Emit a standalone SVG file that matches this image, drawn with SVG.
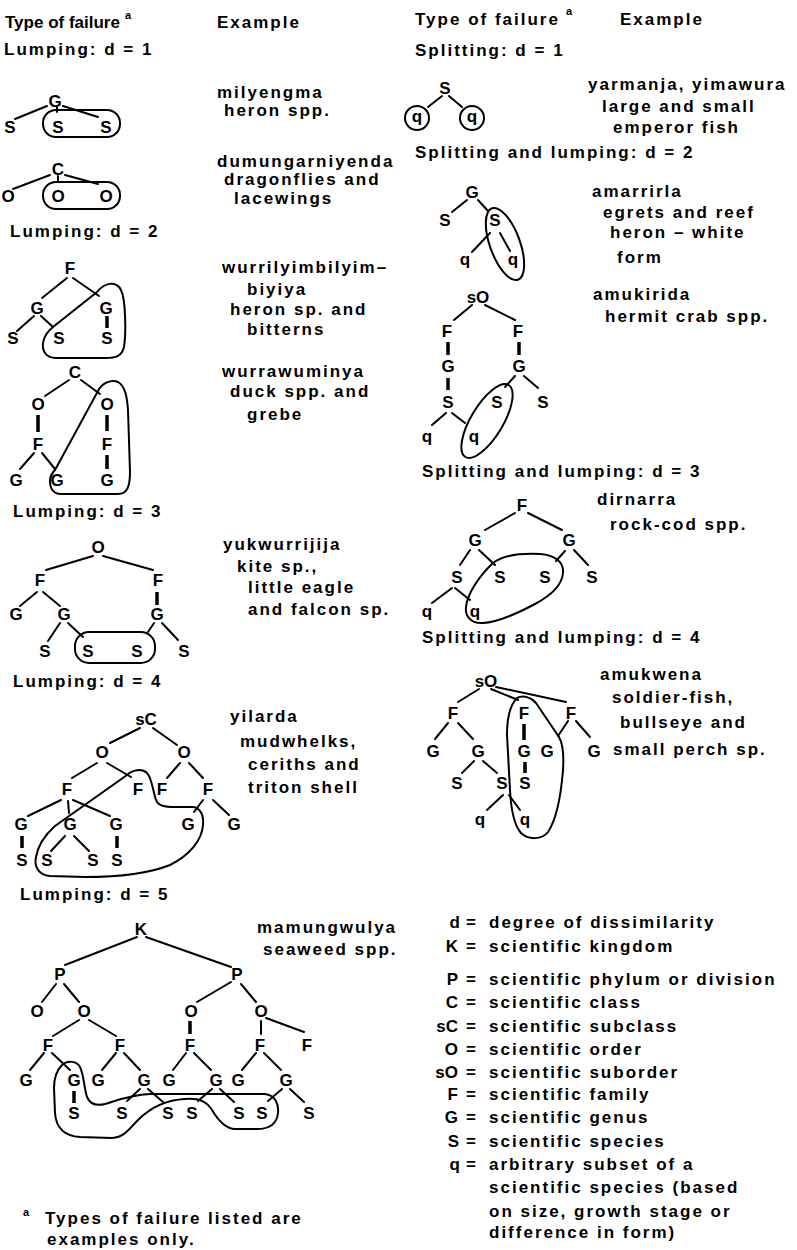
<svg xmlns="http://www.w3.org/2000/svg" width="797" height="1250" viewBox="0 0 797 1250">
<style>
.t{font-family:"Liberation Sans",Arial,sans-serif;font-weight:bold;font-size:17px;letter-spacing:2px;fill:#000}
.n{font-family:"Liberation Sans",Arial,sans-serif;font-weight:bold;font-size:17px;fill:#000;text-anchor:middle}
.sup{font-family:"Liberation Sans",Arial,sans-serif;font-weight:bold;font-size:11px;fill:#000}
.sym{font-family:"Liberation Sans",Arial,sans-serif;font-weight:bold;font-size:17px;fill:#000;text-anchor:end}
.e{stroke:#000;stroke-width:2;fill:none;stroke-linecap:round}
.b{stroke:#000;stroke-width:3.5;fill:none}
.l{stroke:#000;stroke-width:2;fill:none}
</style>
<rect width="797" height="1250" fill="#fff"/>

<g id="headers">
<text class="t" x="5" y="28" style="letter-spacing:0">Type of failure</text><text class="sup" x="125" y="19">a</text>
<text class="t" x="217" y="28">Example</text>
<text class="t" x="415" y="25">Type of failure</text><text class="sup" x="566" y="15">a</text>
<text class="t" x="620" y="25">Example</text>
<text class="t" x="4" y="55">Lumping: d = 1</text>
<text class="t" x="10" y="237">Lumping: d = 2</text>
<text class="t" x="13" y="517">Lumping: d = 3</text>
<text class="t" x="13" y="687">Lumping: d = 4</text>
<text class="t" x="20" y="900">Lumping: d = 5</text>
<text class="t" x="415" y="56">Splitting: d = 1</text>
<text class="t" x="415" y="158">Splitting and lumping: d = 2</text>
<text class="t" x="422" y="477">Splitting and lumping: d = 3</text>
<text class="t" x="422" y="643">Splitting and lumping: d = 4</text>
</g>

<g id="examples">
<text class="t" x="217" y="98">milyengma</text>
<text class="t" x="224" y="116">heron spp.</text>
<text class="t" x="217" y="167">dumungarniyenda</text>
<text class="t" x="224" y="185">dragonflies and</text>
<text class="t" x="234" y="204">lacewings</text>
<text class="t" x="222" y="273">wurrilyimbilyim–</text>
<text class="t" x="247" y="295">biyiya</text>
<text class="t" x="230" y="315">heron sp. and</text>
<text class="t" x="247" y="335">bitterns</text>
<text class="t" x="222" y="377">wurrawuminya</text>
<text class="t" x="230" y="397">duck spp. and</text>
<text class="t" x="247" y="420">grebe</text>
<text class="t" x="223" y="550">yukwurrijija</text>
<text class="t" x="237" y="572">kite sp.,</text>
<text class="t" x="248" y="593">little eagle</text>
<text class="t" x="248" y="615">and falcon sp.</text>
<text class="t" x="230" y="722">yilarda</text>
<text class="t" x="240" y="747">mudwhelks,</text>
<text class="t" x="248" y="770">ceriths and</text>
<text class="t" x="248" y="793">triton shell</text>
<text class="t" x="257" y="933">mamungwulya</text>
<text class="t" x="263" y="955">seaweed spp.</text>
<text class="t" x="588" y="90">yarmanja, yimawura</text>
<text class="t" x="602" y="112">large and small</text>
<text class="t" x="613" y="133">emperor fish</text>
<text class="t" x="592" y="197">amarrirla</text>
<text class="t" x="603" y="218">egrets and reef</text>
<text class="t" x="610" y="238">heron – white</text>
<text class="t" x="617" y="263">form</text>
<text class="t" x="593" y="300">amukirida</text>
<text class="t" x="605" y="322">hermit crab spp.</text>
<text class="t" x="597" y="505">dirnarra</text>
<text class="t" x="610" y="530">rock-cod spp.</text>
<text class="t" x="600" y="680">amukwena</text>
<text class="t" x="612" y="703">soldier-fish,</text>
<text class="t" x="620" y="728">bullseye and</text>
<text class="t" x="613" y="755">small perch sp.</text>
</g>

<g id="tree-lump1a">
<g class="connectors"><path class="e" d="M47,106L15,119M57,107L57,112M63,106L98,117"/><rect class="l" x="43" y="110" width="77" height="27" rx="13"/></g>
<text class="n" x="55" y="107">G</text><text class="n" x="10" y="133">S</text><text class="n" x="58" y="133">S</text><text class="n" x="106" y="133">S</text>
</g>
<g id="tree-lump1b">
<g class="connectors"><path class="e" d="M50,175L13,189M58,176L58,182M65,175L98,184"/><rect class="l" x="43" y="182" width="77" height="27" rx="13"/></g>
<text class="n" x="58" y="175">C</text><text class="n" x="8" y="202">O</text><text class="n" x="58" y="202">O</text><text class="n" x="106" y="202">O</text>
</g>
<g id="tree-lump2a">
<g class="connectors"><path class="e" d="M67,278L42,298M73,278L99,296M34,316L17,331M41,316L53,327"/><path class="b" d="M107,316L107,328"/>
<path class="l" d="M53,327L97,292C104,283 116,280 121,290C126,300 126,335 124,347C122,356 116,358 106,358L56,358C46,358 42,351 43,343C44,336 48,331 53,327Z"/></g>
<text class="n" x="70" y="274">F</text><text class="n" x="37" y="314">G</text><text class="n" x="106" y="314">G</text><text class="n" x="13" y="344">S</text><text class="n" x="59" y="344">S</text><text class="n" x="107" y="344">S</text>
</g>
<g id="tree-lump2b">
<g class="connectors"><path class="e" d="M69,380L45,396M81,380L100,394M34,453L20,469M42,453L55,469"/><path class="b" d="M38,415L38,432M107,415L107,431M107,455L107,469"/>
<path class="l" d="M55,470L98,391C102,383 111,379 118,382C125,386 127,396 128,410L130,472C130,487 127,494 118,494L61,494C53,494 50,488 50,481C50,476 52,473 55,470Z"/></g>
<text class="n" x="75" y="378">C</text><text class="n" x="38" y="410">O</text><text class="n" x="107" y="410">O</text><text class="n" x="38" y="450">F</text><text class="n" x="107" y="450">F</text><text class="n" x="16" y="486">G</text><text class="n" x="57" y="486">G</text><text class="n" x="107" y="486">G</text>
</g>
<g id="tree-lump3">
<g class="connectors"><path class="e" d="M93,556L46,570M103,556L153,570M37,592L20,606M43,592L60,606M60,623L48,641M68,623L83,637M154,623L148,632M162,623L178,640"/><path class="b" d="M157,592L157,605"/><rect class="l" x="75" y="632" width="80" height="31" rx="14"/></g>
<text class="n" x="98" y="553">O</text><text class="n" x="40" y="586">F</text><text class="n" x="158" y="586">F</text><text class="n" x="16" y="620">G</text><text class="n" x="64" y="620">G</text><text class="n" x="157" y="620">G</text><text class="n" x="45" y="657">S</text><text class="n" x="88" y="657">S</text><text class="n" x="137" y="657">S</text><text class="n" x="184" y="657">S</text>
</g>
<g id="tree-lump4">
<g class="connectors"><path class="e" d="M140,728L110,743M153,728L177,745M97,763L72,778M107,763L131,777M180,763L167,778M189,763L203,778M61,800L28,816M68,801L69,813M73,800L110,816M65,836L51,851M74,836L89,851M203,800L194,812M213,800L229,815"/><path class="b" d="M22,836L22,848M117,836L117,848"/>
<path class="l" d="M127,775C132,770 142,768 147,773C152,778 153,792 156,800C158,806 165,807 175,807L192,807C200,807 204,815 203,825C202,840 190,855 170,865C150,873 120,877 85,877L50,876C38,875 34,866 36,857C38,845 45,835 55,826L127,775Z"/></g>
<text class="n" x="146" y="725">sC</text><text class="n" x="102" y="758">O</text><text class="n" x="184" y="758">O</text><text class="n" x="67" y="795">F</text><text class="n" x="138" y="795">F</text><text class="n" x="162" y="795">F</text><text class="n" x="208" y="795">F</text>
<text class="n" x="21" y="830">G</text><text class="n" x="70" y="830">G</text><text class="n" x="116" y="830">G</text><text class="n" x="188" y="830">G</text><text class="n" x="234" y="830">G</text>
<text class="n" x="22" y="866">S</text><text class="n" x="47" y="866">S</text><text class="n" x="93" y="866">S</text><text class="n" x="117" y="866">S</text>
</g>
<g id="tree-lump5">
<g class="connectors"><path class="e" d="M137,937L65,965M146,937L231,967M56,984L42,1002M64,984L79,1002M231,982L197,1002M241,984L256,1002M79,1020L53,1036M89,1020L116,1036M261,1021L261,1034M266,1018L304,1032M44,1053L30,1070M52,1053L70,1070M116,1053L102,1070M124,1053L140,1070M186,1053L173,1070M194,1053L211,1070M256,1053L242,1070M264,1053L281,1070M140,1089L127,1101M148,1089L163,1102M212,1089L198,1101M220,1089L234,1102M282,1089L268,1101M290,1089L304,1102"/><path class="b" d="M190,1021L190,1034M74,1091L74,1103"/>
<path class="l" d="M62,1065C67,1060 77,1061 80,1067C84,1075 84,1088 87,1097C90,1104 97,1106 105,1104C118,1100 130,1095 150,1094L265,1094C275,1095 279,1104 278,1113C277,1123 270,1129 257,1129L235,1129C225,1129 218,1120 212,1110C207,1102 200,1098 185,1099C165,1100 150,1108 138,1120C130,1128 125,1137 112,1138L80,1137C65,1136 56,1128 55,1113L54,1088C54,1078 57,1070 62,1065Z"/></g>
<text class="n" x="141" y="935">K</text><text class="n" x="60" y="980">P</text><text class="n" x="237" y="980">P</text>
<text class="n" x="37" y="1017">O</text><text class="n" x="84" y="1017">O</text><text class="n" x="191" y="1017">O</text><text class="n" x="261" y="1017">O</text>
<text class="n" x="48" y="1051">F</text><text class="n" x="120" y="1051">F</text><text class="n" x="190" y="1051">F</text><text class="n" x="260" y="1051">F</text><text class="n" x="307" y="1051">F</text>
<text class="n" x="26" y="1086">G</text><text class="n" x="74" y="1086">G</text><text class="n" x="98" y="1086">G</text><text class="n" x="144" y="1086">G</text><text class="n" x="169" y="1086">G</text><text class="n" x="216" y="1086">G</text><text class="n" x="238" y="1086">G</text><text class="n" x="286" y="1086">G</text>
<text class="n" x="74" y="1119">S</text><text class="n" x="122" y="1119">S</text><text class="n" x="168" y="1119">S</text><text class="n" x="192" y="1119">S</text><text class="n" x="239" y="1119">S</text><text class="n" x="262" y="1119">S</text><text class="n" x="309" y="1119">S</text>
</g>

<g id="tree-split1">
<g class="connectors"><path class="e" d="M442,96L428,107M449,96L462,107"/><circle class="l" cx="417" cy="118" r="12"/><circle class="l" cx="472" cy="118" r="12"/></g>
<text class="n" x="445" y="94">S</text><text class="n" x="417" y="122">q</text><text class="n" x="472" y="122">q</text>
</g>
<g id="tree-split2a">
<g class="connectors"><path class="e" d="M467,200L452,212M478,200L488,211M490,233L472,252M500,233L510,251"/><ellipse class="l" cx="505" cy="244" rx="15" ry="38" transform="rotate(-20 505 244)"/></g>
<text class="n" x="472" y="198">G</text><text class="n" x="445" y="226">S</text><text class="n" x="495" y="226">S</text><text class="n" x="465" y="265">q</text><text class="n" x="513" y="265">q</text>
</g>
<g id="tree-split2b">
<g class="connectors"><path class="e" d="M472,305L454,320M485,305L515,320M515,376L505,387M524,376L538,388M446,413L432,425M452,413L465,423"/><path class="b" d="M448,342L448,355M519,342L519,355M448,378L448,390"/><ellipse class="l" cx="487" cy="421" rx="16" ry="42" transform="rotate(31 487 421)"/></g>
<text class="n" x="478" y="303">sO</text><text class="n" x="447" y="337">F</text><text class="n" x="518" y="337">F</text><text class="n" x="448" y="372">G</text><text class="n" x="519" y="372">G</text>
<text class="n" x="448" y="408">S</text><text class="n" x="497" y="408">S</text><text class="n" x="543" y="408">S</text><text class="n" x="427" y="442">q</text><text class="n" x="474" y="442">q</text>
</g>
<g id="tree-split3">
<g class="connectors"><path class="e" d="M515,513L485,530M528,513L562,530M470,550L460,565M479,550L495,565M565,551L556,561M574,550L588,565M452,588L432,603M455,588L470,600"/>
<path class="l" d="M493,563C502,556 520,553 540,554C555,555 564,562 563,573C562,585 550,596 535,604C520,612 500,622 483,623C470,624 465,615 466,607C467,595 478,577 493,563Z"/></g>
<text class="n" x="522" y="511">F</text><text class="n" x="475" y="546">G</text><text class="n" x="569" y="546">G</text>
<text class="n" x="457" y="583">S</text><text class="n" x="500" y="583">S</text><text class="n" x="545" y="583">S</text><text class="n" x="592" y="583">S</text><text class="n" x="427" y="617">q</text><text class="n" x="475" y="617">q</text>
</g>
<g id="tree-split4">
<g class="connectors"><path class="e" d="M479,689L458,702M491,689L518,700M496,687L566,702M448,723L435,739M458,723L473,739M568,721L558,736M576,721L590,737M474,761L462,773M483,761L497,773M503,795L487,810M509,795L520,810"/><path class="b" d="M524,724L524,740M525,762L525,773"/>
<path class="l" d="M517,698C523,695 531,697 536,703L559,737C563,744 564,755 563,770C561,795 556,820 548,832C542,840 528,840 521,833C514,825 511,810 510,790L507,735C507,718 510,705 517,698Z"/></g>
<text class="n" x="486" y="687">sO</text><text class="n" x="453" y="719">F</text><text class="n" x="524" y="719">F</text><text class="n" x="571" y="719">F</text>
<text class="n" x="433" y="757">G</text><text class="n" x="478" y="757">G</text><text class="n" x="524" y="757">G</text><text class="n" x="547" y="757">G</text><text class="n" x="594" y="757">G</text>
<text class="n" x="457" y="789">S</text><text class="n" x="502" y="789">S</text><text class="n" x="525" y="789">S</text><text class="n" x="480" y="825">q</text><text class="n" x="525" y="825">q</text>
</g>

<g id="legend">
<text class="sym" x="460" y="928">d</text><text class="t" x="466" y="928">=</text><text class="t" x="489" y="928">degree of dissimilarity</text>
<text class="sym" x="458" y="952">K</text><text class="t" x="466" y="952">=</text><text class="t" x="489" y="952">scientific kingdom</text>
<text class="sym" x="458" y="985">P</text><text class="t" x="466" y="985">=</text><text class="t" x="489" y="985">scientific phylum or division</text>
<text class="sym" x="458" y="1008">C</text><text class="t" x="466" y="1008">=</text><text class="t" x="489" y="1008">scientific class</text>
<text class="sym" x="458" y="1032">sC</text><text class="t" x="466" y="1032">=</text><text class="t" x="489" y="1032">scientific subclass</text>
<text class="sym" x="458" y="1055">O</text><text class="t" x="466" y="1055">=</text><text class="t" x="489" y="1055">scientific order</text>
<text class="sym" x="458" y="1078">sO</text><text class="t" x="466" y="1078">=</text><text class="t" x="489" y="1078">scientific suborder</text>
<text class="sym" x="458" y="1100">F</text><text class="t" x="466" y="1100">=</text><text class="t" x="489" y="1100">scientific family</text>
<text class="sym" x="458" y="1123">G</text><text class="t" x="466" y="1123">=</text><text class="t" x="489" y="1123">scientific genus</text>
<text class="sym" x="459" y="1147">S</text><text class="t" x="466" y="1147">=</text><text class="t" x="489" y="1147">scientific species</text>
<text class="sym" x="460" y="1170">q</text><text class="t" x="466" y="1170">=</text><text class="t" x="489" y="1170">arbitrary subset of a</text>
<text class="t" x="489" y="1193">scientific species (based</text>
<text class="t" x="489" y="1217">on size, growth stage or</text>
<text class="t" x="489" y="1238">difference in form)</text>
</g>

<g id="footnote">
<text class="sup" x="23" y="1216">a</text>
<text class="t" x="45" y="1224">Types of failure listed are</text>
<text class="t" x="47" y="1245">examples only.</text>
</g>
</svg>
